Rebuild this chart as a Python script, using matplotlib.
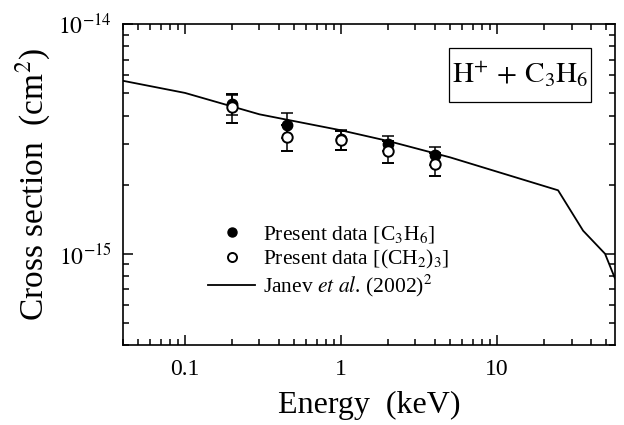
import matplotlib
matplotlib.use("Agg")
import matplotlib.pyplot as plt
from matplotlib.lines import Line2D
from matplotlib.patches import Rectangle
from matplotlib.ticker import LogLocator, NullFormatter, FixedLocator

plt.rcParams['font.family'] = ['Liberation Serif', 'DejaVu Serif']
plt.rcParams['mathtext.fontset'] = 'stix'

# datos medidos (keV, cm^2)
energia = [0.2, 0.45, 1.0, 2.0, 4.0]
c3h6 = [4.48e-15, 3.65e-15, 3.15e-15, 3.02e-15, 2.68e-15]
c3h6_err = [0.46e-15, 0.46e-15, 0.32e-15, 0.23e-15, 0.24e-15]
ch2_3 = [4.34e-15, 3.21e-15, 3.12e-15, 2.80e-15, 2.47e-15]
ch2_3_err = [0.61e-15, 0.42e-15, 0.30e-15, 0.31e-15, 0.28e-15]

# curva de Janev et al. (2002)
janev_e = [0.04, 0.1, 0.3, 1.0, 2.0, 5.0, 24.6, 35.6, 49.2, 57.0]
janev_s = [5.67e-15, 5.02e-15, 4.05e-15, 3.45e-15, 3.1e-15, 2.63e-15,
           1.89e-15, 1.26e-15, 1.0e-15, 7.8e-16]

fig = plt.figure(figsize=(6.24, 4.25), dpi=100)
ax = fig.add_axes([0.197, 0.188, 0.7886, 0.755])

ax.plot(janev_e, janev_s, color='black', lw=1.3, zorder=2)
ax.errorbar(energia, c3h6, yerr=c3h6_err, fmt='o', color='black', ms=7.5,
            ecolor='black', elinewidth=1.1, capsize=4, capthick=1.1, zorder=3)
ax.errorbar(energia, ch2_3, yerr=ch2_3_err, fmt='o', color='black', ms=7.5,
            mfc='white', mec='black', mew=1.4, ecolor='black',
            elinewidth=1.1, capsize=4, capthick=1.1, zorder=4)

ax.set_xscale('log')
ax.set_yscale('log')
ax.set_xlim(0.04, 57)
ax.set_ylim(4e-16, 1e-14)

ax.xaxis.set_major_locator(FixedLocator([0.1, 1, 10]))
ax.set_xticklabels(['0.1', '1', '10'])
ax.xaxis.set_minor_locator(LogLocator(base=10, subs=range(2, 10), numticks=20))
ax.xaxis.set_minor_formatter(NullFormatter())
ax.yaxis.set_major_locator(FixedLocator([1e-15, 1e-14]))
ax.set_yticklabels([r'$10^{-15}$', r'$10^{-14}$'])
ax.yaxis.set_minor_locator(LogLocator(base=10, subs=range(2, 10), numticks=20))
ax.yaxis.set_minor_formatter(NullFormatter())

ax.tick_params(which='both', direction='in', top=True, right=True, width=1.1)
ax.tick_params(which='major', length=7, labelsize=17)
ax.tick_params(axis='x', which='major', pad=10)
ax.tick_params(axis='y', which='major', pad=8)
ax.tick_params(which='minor', length=4)
for s in ax.spines.values():
    s.set_linewidth(1.2)

ax.set_xlabel('Energy  (keV)', fontsize=23, labelpad=8)
ax.set_ylabel(r'Cross section  (cm$^2$)', fontsize=24, labelpad=4)

# recuadro con la reacción
ax.add_patch(Rectangle((0.663, 0.758), 0.288, 0.168, transform=ax.transAxes,
                       fc='white', ec='black', lw=0.9, zorder=5))
ax.text(0.807, 0.842, r'$\mathrm{H^{+}\,+\,C_3H_6}$', transform=ax.transAxes,
        fontsize=21, ha='center', va='center', zorder=6)

handles = [
    Line2D([], [], marker='o', ls='none', color='black', ms=6.5),
    Line2D([], [], marker='o', ls='none', mfc='white', mec='black', mew=1.4, ms=6.5),
    Line2D([], [], color='black', lw=1.3),
]
labels = [r'Present data [C$_3$H$_6$]', r'Present data [(CH$_2$)$_3$]',
          r'Janev $et$ $al$. (2002)$^2$']
ax.legend(handles, labels, loc='lower left', bbox_to_anchor=(0.151, 0.11),
          frameon=False, fontsize=15.5, handlelength=2.2, handletextpad=0.37,
          labelspacing=0.1, borderpad=0)

fig.savefig('out.png', dpi=100)
